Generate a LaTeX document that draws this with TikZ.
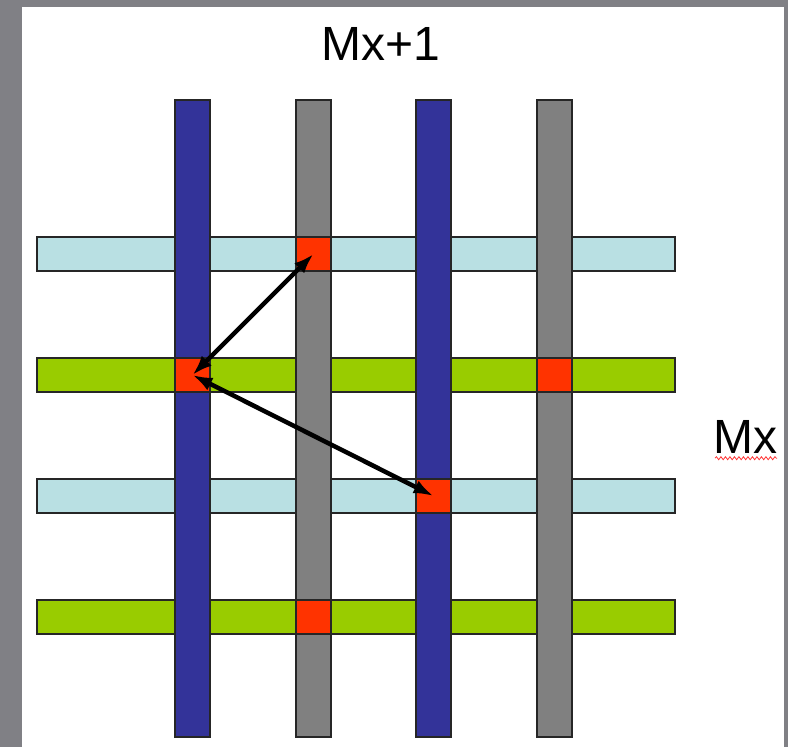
\documentclass[tikz,border=0pt]{standalone}
\usepackage{fontspec}
\setmainfont{Liberation Sans}
\usetikzlibrary{arrows.meta,decorations.pathmorphing}
\definecolor{frame}{HTML}{808085}
\definecolor{vblue}{HTML}{333399}
\definecolor{vgrey}{HTML}{808080}
\definecolor{hlight}{HTML}{B9E0E3}
\definecolor{hgreen}{HTML}{99CC00}
\definecolor{cut}{HTML}{FF3300}
\tikzset{
  barline/.style={draw=black!85, line width=1.2pt},
  vbar/.style={barline, fill=#1},
  via/.style={rectangle, barline, fill=cut, minimum width=35pt, minimum height=34pt, inner sep=0pt},
  link/.style={line width=4.5pt, {Latex[length=20pt,width=14pt]}-{Latex[length=20pt,width=14pt]}},
  lbl/.style={font=\fontsize{48}{48}\selectfont, inner sep=0pt, anchor=base west}
}
\begin{document}
\begin{tikzpicture}[x=1pt,y=-1pt]
\useasboundingbox (0,0) rectangle (788,747);
\fill[frame] (0,0) rectangle (788,747);
\fill[white] (22,7) rectangle (784,747);
% horizontal bars
\draw[vbar=hlight] (37,237) rectangle (675,271);
\draw[vbar=hgreen] (37,358) rectangle (675,392);
\draw[vbar=hlight] (37,479) rectangle (675,513);
\draw[vbar=hgreen] (37,600) rectangle (675,634);
% vertical bars
\draw[vbar=vblue] (175,100) rectangle (210,737);
\draw[vbar=vgrey] (296,100) rectangle (331,737);
\draw[vbar=vblue] (416,100) rectangle (451,737);
\draw[vbar=vgrey] (537,100) rectangle (572,737);
% vias
\node[via] (v1) at (313.5,254) {};
\node[via] (v2) at (192.5,375) {};
\node[via] (v3) at (554.5,375) {};
\node[via] (v4) at (433.5,496) {};
\node[via] (v5) at (313.5,617) {};
% arrows
\draw[link] (v1.center) -- (v2.center);
\draw[link] (v2.center) -- (v4.center);
% labels
\node[lbl] (top) at (321,60) {Mx+1};
\node[lbl] (side) at (713,453) {Mx};
\draw[red!80, line width=0.8pt, decorate, decoration={snake, amplitude=1.5pt, segment length=4.5pt}] (side.south west) ++(2,5) -- ++(62,0);
\end{tikzpicture}
\end{document}
